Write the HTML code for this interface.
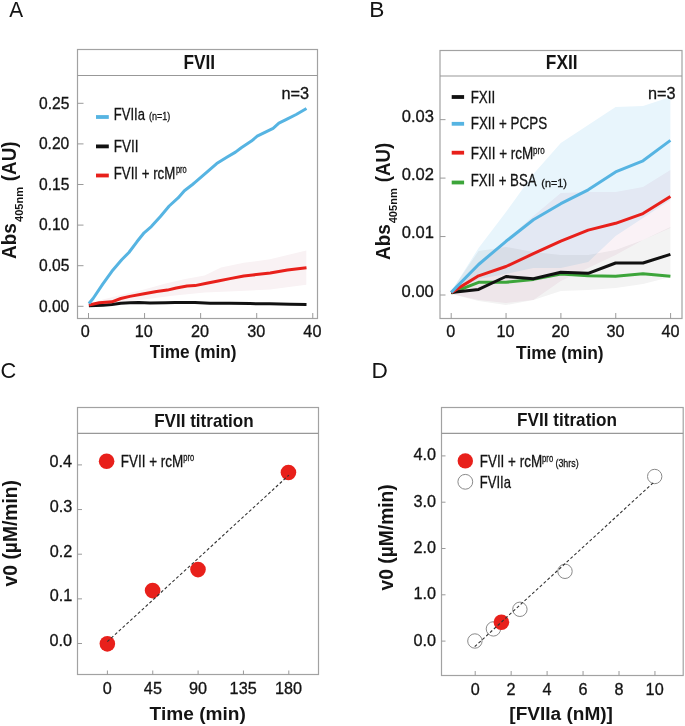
<!DOCTYPE html>
<html><head><meta charset="utf-8"><style>
html,body{margin:0;padding:0;background:#fff;}
svg{display:block;font-family:"Liberation Sans", sans-serif;}
</style></head><body>
<svg width="685" height="726" viewBox="0 0 685 726">
<rect width="685" height="726" fill="#fff"/>
<text x="9.16" y="16.90" font-size="22.2" fill="#141414" textLength="13.88" lengthAdjust="spacingAndGlyphs">A</text>
<polygon points="88.9,304.5 102.9,299.6 120.8,295.1 144.1,289.6 165.6,283.5 185.3,279.0 204.6,275.5 221.0,267.5 243.8,262.8 270.0,259.3 287.6,254.9 306.3,250.5 306.3,284.8 270.0,289.5 240.0,291.0 204.6,292.5 170.0,296.0 144.0,299.5 110.0,303.5 88.9,306.0" fill="#f9f2f4"/>
<rect x="77.5" y="49.5" width="240.0" height="269.0" fill="none" stroke="#a2a2a2" stroke-width="1.2"/>
<line x1="77.50" y1="75.50" x2="317.50" y2="75.50" stroke="#989898" stroke-width="1.2"/>
<text x="183.44" y="68.50" font-size="19.8" font-weight="bold" fill="#141414" textLength="31.71" lengthAdjust="spacingAndGlyphs">FVII</text>
<line x1="77.50" y1="306.30" x2="83.50" y2="306.30" stroke="#9a9a9a" stroke-width="1"/>
<text x="38.95" y="311.60" font-size="15.6" stroke="#141414" stroke-width="0.3" fill="#141414" textLength="30.36" lengthAdjust="spacingAndGlyphs">0.00</text>
<line x1="77.50" y1="265.70" x2="83.50" y2="265.70" stroke="#9a9a9a" stroke-width="1"/>
<text x="38.99" y="271.00" font-size="15.6" stroke="#141414" stroke-width="0.3" fill="#141414" textLength="30.36" lengthAdjust="spacingAndGlyphs">0.05</text>
<line x1="77.50" y1="225.10" x2="83.50" y2="225.10" stroke="#9a9a9a" stroke-width="1"/>
<text x="38.95" y="230.40" font-size="15.6" stroke="#141414" stroke-width="0.3" fill="#141414" textLength="30.36" lengthAdjust="spacingAndGlyphs">0.10</text>
<line x1="77.50" y1="184.50" x2="83.50" y2="184.50" stroke="#9a9a9a" stroke-width="1"/>
<text x="38.99" y="189.80" font-size="15.6" stroke="#141414" stroke-width="0.3" fill="#141414" textLength="30.36" lengthAdjust="spacingAndGlyphs">0.15</text>
<line x1="77.50" y1="143.90" x2="83.50" y2="143.90" stroke="#9a9a9a" stroke-width="1"/>
<text x="38.95" y="149.20" font-size="15.6" stroke="#141414" stroke-width="0.3" fill="#141414" textLength="30.36" lengthAdjust="spacingAndGlyphs">0.20</text>
<line x1="77.50" y1="103.30" x2="83.50" y2="103.30" stroke="#9a9a9a" stroke-width="1"/>
<text x="38.99" y="108.60" font-size="15.6" stroke="#141414" stroke-width="0.3" fill="#141414" textLength="30.36" lengthAdjust="spacingAndGlyphs">0.25</text>
<line x1="88.50" y1="313.00" x2="88.50" y2="318.50" stroke="#9a9a9a" stroke-width="1"/>
<text x="80.89" y="336.80" font-size="15.6" stroke="#141414" stroke-width="0.3" fill="#141414" textLength="9.02" lengthAdjust="spacingAndGlyphs">0</text>
<line x1="144.57" y1="313.00" x2="144.57" y2="318.50" stroke="#9a9a9a" stroke-width="1"/>
<text x="134.75" y="336.80" font-size="15.6" stroke="#141414" stroke-width="0.3" fill="#141414" textLength="18.05" lengthAdjust="spacingAndGlyphs">10</text>
<line x1="200.64" y1="313.00" x2="200.64" y2="318.50" stroke="#9a9a9a" stroke-width="1"/>
<text x="191.03" y="336.80" font-size="15.6" stroke="#141414" stroke-width="0.3" fill="#141414" textLength="18.05" lengthAdjust="spacingAndGlyphs">20</text>
<line x1="256.71" y1="313.00" x2="256.71" y2="318.50" stroke="#9a9a9a" stroke-width="1"/>
<text x="247.19" y="336.80" font-size="15.6" stroke="#141414" stroke-width="0.3" fill="#141414" textLength="18.05" lengthAdjust="spacingAndGlyphs">30</text>
<line x1="312.78" y1="313.00" x2="312.78" y2="318.50" stroke="#9a9a9a" stroke-width="1"/>
<text x="303.39" y="336.80" font-size="15.6" stroke="#141414" stroke-width="0.3" fill="#141414" textLength="18.05" lengthAdjust="spacingAndGlyphs">40</text>
<text x="149.71" y="357.80" font-size="18" font-weight="bold" fill="#141414" textLength="86.85" lengthAdjust="spacingAndGlyphs">Time (min)</text>
<text transform="translate(16.30,259.07) rotate(-90)" font-size="20.3" font-weight="bold" fill="#141414" textLength="35.85" lengthAdjust="spacingAndGlyphs">Abs</text>
<text transform="translate(22.6,222.0) rotate(-90)" font-size="11.3" font-weight="bold" fill="#141414" textLength="35.15" lengthAdjust="spacingAndGlyphs">405nm</text>
<text transform="translate(16.30,181.24) rotate(-90)" font-size="20.3" font-weight="bold" fill="#141414" textLength="39.78" lengthAdjust="spacingAndGlyphs">(AU)</text>
<rect x="96" y="115.1" width="12.8" height="3.8" fill="#56b4e2"/>
<rect x="96" y="144.5" width="12.8" height="3.8" fill="#111111"/>
<rect x="96" y="173.6" width="12.8" height="3.8" fill="#e8201b"/>
<text x="113.73" y="119.90" font-size="16.4" stroke="#141414" stroke-width="0.3" fill="#141414" textLength="31.27" lengthAdjust="spacingAndGlyphs">FVIIa</text>
<text x="149.04" y="119.60" font-size="11" stroke="#141414" stroke-width="0.3" fill="#141414" textLength="21.32" lengthAdjust="spacingAndGlyphs">(n=1)</text>
<text x="113.69" y="152.20" font-size="16.4" stroke="#141414" stroke-width="0.3" fill="#141414" textLength="24.86" lengthAdjust="spacingAndGlyphs">FVII</text>
<text x="113.71" y="179.30" font-size="16.4" stroke="#141414" stroke-width="0.3" fill="#141414" textLength="61.58" lengthAdjust="spacingAndGlyphs">FVII + rcM</text>
<text x="175.92" y="172.60" font-size="10.5" stroke="#141414" stroke-width="0.3" fill="#141414" textLength="10.80" lengthAdjust="spacingAndGlyphs">pro</text>
<text x="281.42" y="98.80" font-size="16.5" stroke="#141414" stroke-width="0.3" fill="#141414" textLength="27.70" lengthAdjust="spacingAndGlyphs">n=3</text>
<polyline points="88.9,305.7 96.0,305.6 102.9,305.3 111.9,304.4 120.8,303.2 130.0,302.8 138.7,302.5 150.0,302.9 165.6,302.7 175.0,302.4 185.3,302.5 195.0,302.6 210.0,303.2 230.0,303.3 250.0,303.6 270.0,303.8 290.0,304.2 306.5,304.6" fill="none" stroke="#111111" stroke-width="3" stroke-linejoin="round" stroke-linecap="butt"/>
<polyline points="88.9,305.0 99.3,302.7 111.9,301.8 120.8,298.5 129.8,296.4 144.1,293.7 156.6,291.4 167.4,290.1 176.3,288.0 187.1,286.0 195.0,285.6 206.6,283.3 218.1,281.0 230.0,278.6 243.8,276.0 252.8,275.0 270.2,273.0 287.5,270.1 306.5,267.8" fill="none" stroke="#e8201b" stroke-width="3" stroke-linejoin="round" stroke-linecap="butt"/>
<polyline points="88.9,303.5 93.1,298.5 102.9,283.9 111.9,271.3 121.7,259.7 128.9,252.5 136.9,241.8 144.1,232.8 151.3,226.6 160.2,216.7 169.2,206.0 178.1,197.9 184.4,190.7 192.5,184.5 195.0,182.4 206.6,172.3 216.7,163.6 226.8,157.3 235.5,152.1 241.3,147.7 251.4,141.1 257.2,136.2 265.9,131.8 273.1,128.3 278.9,123.1 287.5,118.8 296.2,114.5 306.5,108.5" fill="none" stroke="#56b4e2" stroke-width="3" stroke-linejoin="round" stroke-linecap="butt"/>
<text x="369.34" y="16.90" font-size="22.2" fill="#141414" textLength="15.16" lengthAdjust="spacingAndGlyphs">B</text>
<polygon points="451.2,291.5 478.6,248.0 506.0,212.0 533.4,174.0 560.8,143.0 588.2,125.0 615.6,107.0 643.0,106.0 670.4,97.0 670.4,200.0 643.0,218.0 615.6,236.0 588.2,262.0 560.8,268.0 533.4,268.0 506.0,274.0 478.6,279.0 451.2,293.0" fill="#e8f5fc" style="mix-blend-mode:multiply"/>
<polygon points="451.2,291.0 478.6,262.0 506.0,240.0 533.4,216.0 560.8,193.0 588.2,192.0 615.6,192.0 643.0,187.0 670.4,170.0 670.4,228.0 643.0,240.0 615.6,255.0 588.2,268.0 560.8,281.0 533.4,300.0 506.0,303.0 478.6,300.0 451.2,294.0" fill="#faf2f6" style="mix-blend-mode:multiply"/>
<polygon points="451.2,291.0 478.6,251.0 506.0,247.0 533.4,252.0 560.8,255.0 588.2,255.0 615.6,250.0 643.0,240.0 670.4,227.0 670.4,277.0 643.0,284.0 615.6,288.0 588.2,290.0 560.8,291.0 533.4,300.0 506.0,305.0 478.6,301.0 451.2,294.0" fill="#f3f3f3" style="mix-blend-mode:multiply"/>
<rect x="440" y="50.5" width="242" height="268.0" fill="none" stroke="#a2a2a2" stroke-width="1.2"/>
<line x1="440.00" y1="76.00" x2="682.00" y2="76.00" stroke="#989898" stroke-width="1.2"/>
<text x="545.84" y="68.60" font-size="19.8" font-weight="bold" fill="#141414" textLength="31.71" lengthAdjust="spacingAndGlyphs">FXII</text>
<line x1="440.00" y1="295.00" x2="445.50" y2="295.00" stroke="#9a9a9a" stroke-width="1"/>
<text x="401.64" y="296.90" font-size="15.6" stroke="#141414" stroke-width="0.3" fill="#141414" textLength="32.21" lengthAdjust="spacingAndGlyphs">0.00</text>
<line x1="440.00" y1="236.55" x2="445.50" y2="236.55" stroke="#9a9a9a" stroke-width="1"/>
<text x="401.80" y="238.45" font-size="15.6" stroke="#141414" stroke-width="0.3" fill="#141414" textLength="32.21" lengthAdjust="spacingAndGlyphs">0.01</text>
<line x1="440.00" y1="178.10" x2="445.50" y2="178.10" stroke="#9a9a9a" stroke-width="1"/>
<text x="401.82" y="180.00" font-size="15.6" stroke="#141414" stroke-width="0.3" fill="#141414" textLength="32.21" lengthAdjust="spacingAndGlyphs">0.02</text>
<line x1="440.00" y1="119.65" x2="445.50" y2="119.65" stroke="#9a9a9a" stroke-width="1"/>
<text x="401.72" y="121.55" font-size="15.6" stroke="#141414" stroke-width="0.3" fill="#141414" textLength="32.21" lengthAdjust="spacingAndGlyphs">0.03</text>
<line x1="451.20" y1="313.00" x2="451.20" y2="318.50" stroke="#9a9a9a" stroke-width="1"/>
<text x="446.39" y="336.50" font-size="15.6" stroke="#141414" stroke-width="0.3" fill="#141414" textLength="9.02" lengthAdjust="spacingAndGlyphs">0</text>
<line x1="506.05" y1="313.00" x2="506.05" y2="318.50" stroke="#9a9a9a" stroke-width="1"/>
<text x="496.43" y="336.50" font-size="15.6" stroke="#141414" stroke-width="0.3" fill="#141414" textLength="18.05" lengthAdjust="spacingAndGlyphs">10</text>
<line x1="560.90" y1="313.00" x2="560.90" y2="318.50" stroke="#9a9a9a" stroke-width="1"/>
<text x="551.49" y="336.50" font-size="15.6" stroke="#141414" stroke-width="0.3" fill="#141414" textLength="18.05" lengthAdjust="spacingAndGlyphs">20</text>
<line x1="615.75" y1="313.00" x2="615.75" y2="318.50" stroke="#9a9a9a" stroke-width="1"/>
<text x="606.43" y="336.50" font-size="15.6" stroke="#141414" stroke-width="0.3" fill="#141414" textLength="18.05" lengthAdjust="spacingAndGlyphs">30</text>
<line x1="670.60" y1="313.00" x2="670.60" y2="318.50" stroke="#9a9a9a" stroke-width="1"/>
<text x="661.41" y="336.50" font-size="15.6" stroke="#141414" stroke-width="0.3" fill="#141414" textLength="18.05" lengthAdjust="spacingAndGlyphs">40</text>
<text x="516.11" y="358.80" font-size="18.5" font-weight="bold" fill="#141414" textLength="87.56" lengthAdjust="spacingAndGlyphs">Time (min)</text>
<text transform="translate(390.20,260.07) rotate(-90)" font-size="20.3" font-weight="bold" fill="#141414" textLength="35.85" lengthAdjust="spacingAndGlyphs">Abs</text>
<text transform="translate(396.5,223.3) rotate(-90)" font-size="11.3" font-weight="bold" fill="#141414" textLength="35.15" lengthAdjust="spacingAndGlyphs">405nm</text>
<text transform="translate(390.20,182.33) rotate(-90)" font-size="20.3" font-weight="bold" fill="#141414" textLength="39.46" lengthAdjust="spacingAndGlyphs">(AU)</text>
<rect x="451.7" y="95.1" width="12.4" height="3.8" fill="#111111"/>
<rect x="451.7" y="121.9" width="12.4" height="3.8" fill="#56b4e2"/>
<rect x="451.7" y="150.8" width="12.4" height="3.8" fill="#e8201b"/>
<rect x="451.7" y="180.6" width="12.4" height="3.8" fill="#3ca53a"/>
<text x="470.71" y="103.00" font-size="16.4" stroke="#141414" stroke-width="0.3" fill="#141414" textLength="24.42" lengthAdjust="spacingAndGlyphs">FXII</text>
<text x="470.70" y="128.80" font-size="16.4" stroke="#141414" stroke-width="0.3" fill="#141414" textLength="76.42" lengthAdjust="spacingAndGlyphs">FXII + PCPS</text>
<text x="470.69" y="158.90" font-size="16.4" stroke="#141414" stroke-width="0.3" fill="#141414" textLength="62.51" lengthAdjust="spacingAndGlyphs">FXII + rcM</text>
<text x="533.08" y="154.00" font-size="10.5" stroke="#141414" stroke-width="0.3" fill="#141414" textLength="11.55" lengthAdjust="spacingAndGlyphs">pro</text>
<text x="470.71" y="186.20" font-size="16.4" stroke="#141414" stroke-width="0.3" fill="#141414" textLength="65.91" lengthAdjust="spacingAndGlyphs">FXII + BSA</text>
<text x="541.33" y="186.60" font-size="11" stroke="#141414" stroke-width="0.3" fill="#141414" textLength="25.65" lengthAdjust="spacingAndGlyphs">(n=1)</text>
<text x="648.02" y="98.70" font-size="16.5" stroke="#141414" stroke-width="0.3" fill="#141414" textLength="27.60" lengthAdjust="spacingAndGlyphs">n=3</text>
<polyline points="451.2,293.0 478.6,282.3 506.0,282.3 533.4,279.4 560.8,274.0 588.2,275.8 615.6,276.2 643.0,273.7 670.4,276.2" fill="none" stroke="#3ca53a" stroke-width="3" stroke-linejoin="round" stroke-linecap="butt"/>
<polyline points="451.2,292.6 478.6,289.4 506.0,276.5 533.4,278.7 560.8,272.3 588.2,273.3 615.6,263.0 643.0,263.0 670.4,254.4" fill="none" stroke="#111111" stroke-width="3" stroke-linejoin="round" stroke-linecap="butt"/>
<polyline points="451.2,292.6 478.6,275.8 506.0,266.5 533.4,253.7 560.8,241.1 588.2,230.1 615.6,223.3 643.0,213.6 670.4,196.4" fill="none" stroke="#e8201b" stroke-width="3" stroke-linejoin="round" stroke-linecap="butt"/>
<polyline points="451.2,292.4 478.6,264.5 506.0,241.3 533.4,219.8 560.8,203.7 588.2,189.8 615.6,171.9 643.0,160.8 670.4,140.4" fill="none" stroke="#56b4e2" stroke-width="3" stroke-linejoin="round" stroke-linecap="butt"/>
<text x="0.49" y="377.50" font-size="22.2" fill="#141414" textLength="15.74" lengthAdjust="spacingAndGlyphs">C</text>
<rect x="77.5" y="407.5" width="241.0" height="267.0" fill="none" stroke="#a2a2a2" stroke-width="1.2"/>
<line x1="77.50" y1="433.40" x2="318.50" y2="433.40" stroke="#989898" stroke-width="1.2"/>
<text x="154.16" y="426.80" font-size="18.5" font-weight="bold" fill="#141414" textLength="99.50" lengthAdjust="spacingAndGlyphs">FVII titration</text>
<line x1="77.50" y1="643.50" x2="82.00" y2="643.50" stroke="#9a9a9a" stroke-width="1"/>
<text x="49.58" y="645.80" font-size="15.6" stroke="#141414" stroke-width="0.3" fill="#141414" textLength="22.55" lengthAdjust="spacingAndGlyphs">0.0</text>
<line x1="77.50" y1="598.85" x2="82.00" y2="598.85" stroke="#9a9a9a" stroke-width="1"/>
<text x="49.74" y="601.15" font-size="15.6" stroke="#141414" stroke-width="0.3" fill="#141414" textLength="22.55" lengthAdjust="spacingAndGlyphs">0.1</text>
<line x1="77.50" y1="554.20" x2="82.00" y2="554.20" stroke="#9a9a9a" stroke-width="1"/>
<text x="49.76" y="556.50" font-size="15.6" stroke="#141414" stroke-width="0.3" fill="#141414" textLength="22.55" lengthAdjust="spacingAndGlyphs">0.2</text>
<line x1="77.50" y1="509.55" x2="82.00" y2="509.55" stroke="#9a9a9a" stroke-width="1"/>
<text x="49.66" y="511.85" font-size="15.6" stroke="#141414" stroke-width="0.3" fill="#141414" textLength="22.55" lengthAdjust="spacingAndGlyphs">0.3</text>
<line x1="77.50" y1="464.90" x2="82.00" y2="464.90" stroke="#9a9a9a" stroke-width="1"/>
<text x="49.42" y="467.20" font-size="15.6" stroke="#141414" stroke-width="0.3" fill="#141414" textLength="22.55" lengthAdjust="spacingAndGlyphs">0.4</text>
<line x1="107.40" y1="670.50" x2="107.40" y2="674.50" stroke="#9a9a9a" stroke-width="1"/>
<text x="102.89" y="694.20" font-size="15.6" stroke="#141414" stroke-width="0.3" fill="#141414" textLength="9.02" lengthAdjust="spacingAndGlyphs">0</text>
<line x1="152.75" y1="670.50" x2="152.75" y2="674.50" stroke="#9a9a9a" stroke-width="1"/>
<text x="143.88" y="694.20" font-size="15.6" stroke="#141414" stroke-width="0.3" fill="#141414" textLength="18.05" lengthAdjust="spacingAndGlyphs">45</text>
<line x1="198.10" y1="670.50" x2="198.10" y2="674.50" stroke="#9a9a9a" stroke-width="1"/>
<text x="189.01" y="694.20" font-size="15.6" stroke="#141414" stroke-width="0.3" fill="#141414" textLength="18.05" lengthAdjust="spacingAndGlyphs">90</text>
<line x1="243.45" y1="670.50" x2="243.45" y2="674.50" stroke="#9a9a9a" stroke-width="1"/>
<text x="229.64" y="694.20" font-size="15.6" stroke="#141414" stroke-width="0.3" fill="#141414" textLength="27.07" lengthAdjust="spacingAndGlyphs">135</text>
<line x1="288.80" y1="670.50" x2="288.80" y2="674.50" stroke="#9a9a9a" stroke-width="1"/>
<text x="274.96" y="694.20" font-size="15.6" stroke="#141414" stroke-width="0.3" fill="#141414" textLength="27.07" lengthAdjust="spacingAndGlyphs">180</text>
<text x="149.59" y="720.00" font-size="18.6" font-weight="bold" fill="#141414" textLength="96.26" lengthAdjust="spacingAndGlyphs">Time (min)</text>
<text transform="translate(16.50,586.38) rotate(-90)" font-size="20.2" font-weight="bold" fill="#141414" textLength="106.33" lengthAdjust="spacingAndGlyphs">v0 (µM/min)</text>
<circle cx="106.6" cy="461.3" r="7.8" fill="#e8201b"/>
<text x="120.79" y="467.00" font-size="16.4" stroke="#141414" stroke-width="0.3" fill="#141414" textLength="62.51" lengthAdjust="spacingAndGlyphs">FVII + rcM</text>
<text x="183.21" y="461.30" font-size="10.5" stroke="#141414" stroke-width="0.3" fill="#141414" textLength="10.90" lengthAdjust="spacingAndGlyphs">pro</text>
<circle cx="107.35" cy="643.85" r="7.8" fill="#e8201b"/>
<circle cx="152.6" cy="590.6" r="7.8" fill="#e8201b"/>
<circle cx="198" cy="569.6" r="7.8" fill="#e8201b"/>
<circle cx="288.45" cy="472.45" r="7.8" fill="#e8201b"/>
<line x1="107.30" y1="641.70" x2="288.90" y2="475.10" stroke="#333" stroke-width="1.1" stroke-dasharray="3 2.2"/>
<text x="371.54" y="377.60" font-size="22.2" fill="#141414" textLength="16.34" lengthAdjust="spacingAndGlyphs">D</text>
<rect x="441.5" y="407.5" width="241.70000000000005" height="268.0" fill="none" stroke="#a2a2a2" stroke-width="1.2"/>
<line x1="441.50" y1="433.40" x2="683.20" y2="433.40" stroke="#989898" stroke-width="1.2"/>
<text x="517.05" y="426.10" font-size="17.8" font-weight="bold" fill="#141414" textLength="100.01" lengthAdjust="spacingAndGlyphs">FVII titration</text>
<line x1="441.50" y1="641.10" x2="445.50" y2="641.10" stroke="#9a9a9a" stroke-width="1"/>
<text x="413.58" y="645.55" font-size="15.6" stroke="#141414" stroke-width="0.3" fill="#141414" textLength="22.55" lengthAdjust="spacingAndGlyphs">0.0</text>
<line x1="441.50" y1="594.80" x2="445.50" y2="594.80" stroke="#9a9a9a" stroke-width="1"/>
<text x="413.58" y="599.25" font-size="15.6" stroke="#141414" stroke-width="0.3" fill="#141414" textLength="22.55" lengthAdjust="spacingAndGlyphs">1.0</text>
<line x1="441.50" y1="548.50" x2="445.50" y2="548.50" stroke="#9a9a9a" stroke-width="1"/>
<text x="413.58" y="552.95" font-size="15.6" stroke="#141414" stroke-width="0.3" fill="#141414" textLength="22.55" lengthAdjust="spacingAndGlyphs">2.0</text>
<line x1="441.50" y1="502.20" x2="445.50" y2="502.20" stroke="#9a9a9a" stroke-width="1"/>
<text x="413.58" y="506.65" font-size="15.6" stroke="#141414" stroke-width="0.3" fill="#141414" textLength="22.55" lengthAdjust="spacingAndGlyphs">3.0</text>
<line x1="441.50" y1="455.90" x2="445.50" y2="455.90" stroke="#9a9a9a" stroke-width="1"/>
<text x="413.58" y="460.35" font-size="15.6" stroke="#141414" stroke-width="0.3" fill="#141414" textLength="22.55" lengthAdjust="spacingAndGlyphs">4.0</text>
<line x1="475.20" y1="671.00" x2="475.20" y2="675.50" stroke="#9a9a9a" stroke-width="1"/>
<text x="470.69" y="694.50" font-size="15.6" stroke="#141414" stroke-width="0.3" fill="#141414" textLength="9.02" lengthAdjust="spacingAndGlyphs">0</text>
<line x1="511.15" y1="671.00" x2="511.15" y2="675.50" stroke="#9a9a9a" stroke-width="1"/>
<text x="506.64" y="694.50" font-size="15.6" stroke="#141414" stroke-width="0.3" fill="#141414" textLength="9.02" lengthAdjust="spacingAndGlyphs">2</text>
<line x1="547.10" y1="671.00" x2="547.10" y2="675.50" stroke="#9a9a9a" stroke-width="1"/>
<text x="542.64" y="694.50" font-size="15.6" stroke="#141414" stroke-width="0.3" fill="#141414" textLength="9.02" lengthAdjust="spacingAndGlyphs">4</text>
<line x1="583.05" y1="671.00" x2="583.05" y2="675.50" stroke="#9a9a9a" stroke-width="1"/>
<text x="578.48" y="694.50" font-size="15.6" stroke="#141414" stroke-width="0.3" fill="#141414" textLength="9.02" lengthAdjust="spacingAndGlyphs">6</text>
<line x1="619.00" y1="671.00" x2="619.00" y2="675.50" stroke="#9a9a9a" stroke-width="1"/>
<text x="614.49" y="694.50" font-size="15.6" stroke="#141414" stroke-width="0.3" fill="#141414" textLength="9.02" lengthAdjust="spacingAndGlyphs">8</text>
<line x1="654.95" y1="671.00" x2="654.95" y2="675.50" stroke="#9a9a9a" stroke-width="1"/>
<text x="645.63" y="694.50" font-size="15.6" stroke="#141414" stroke-width="0.3" fill="#141414" textLength="18.05" lengthAdjust="spacingAndGlyphs">10</text>
<text x="509.33" y="719.80" font-size="18" font-weight="bold" fill="#141414" textLength="103.64" lengthAdjust="spacingAndGlyphs">[FVIIa (nM)]</text>
<text transform="translate(392.50,590.38) rotate(-90)" font-size="20.2" font-weight="bold" fill="#141414" textLength="106.13" lengthAdjust="spacingAndGlyphs">v0 (µM/min)</text>
<circle cx="465.3" cy="460.9" r="7.7" fill="#e8201b"/>
<circle cx="465.3" cy="481.8" r="7.4" fill="none" stroke="#8a8a8a" stroke-width="1"/>
<text x="479.70" y="467.00" font-size="16.4" stroke="#141414" stroke-width="0.3" fill="#141414" textLength="62.41" lengthAdjust="spacingAndGlyphs">FVII + rcM</text>
<text x="542.10" y="461.50" font-size="10.5" stroke="#141414" stroke-width="0.3" fill="#141414" textLength="11.12" lengthAdjust="spacingAndGlyphs">pro</text>
<text x="555.45" y="467.40" font-size="11" stroke="#141414" stroke-width="0.3" fill="#141414" textLength="23.20" lengthAdjust="spacingAndGlyphs">(3hrs)</text>
<text x="479.73" y="487.80" font-size="16.4" stroke="#141414" stroke-width="0.3" fill="#141414" textLength="31.17" lengthAdjust="spacingAndGlyphs">FVIIa</text>
<circle cx="474.9" cy="641" r="7.2" fill="none" stroke="#8a8a8a" stroke-width="1"/>
<circle cx="493.4" cy="628.9" r="7.2" fill="none" stroke="#8a8a8a" stroke-width="1"/>
<circle cx="519.9" cy="609.3" r="7.2" fill="none" stroke="#8a8a8a" stroke-width="1"/>
<circle cx="565" cy="571.3" r="7.2" fill="none" stroke="#8a8a8a" stroke-width="1"/>
<circle cx="654.7" cy="476.5" r="7.2" fill="none" stroke="#8a8a8a" stroke-width="1"/>
<circle cx="501.4" cy="622.3" r="7.8" fill="#e8201b"/>
<line x1="474.70" y1="646.60" x2="654.60" y2="481.50" stroke="#333" stroke-width="1.1" stroke-dasharray="3 2.2"/>
</svg>
</body></html>
